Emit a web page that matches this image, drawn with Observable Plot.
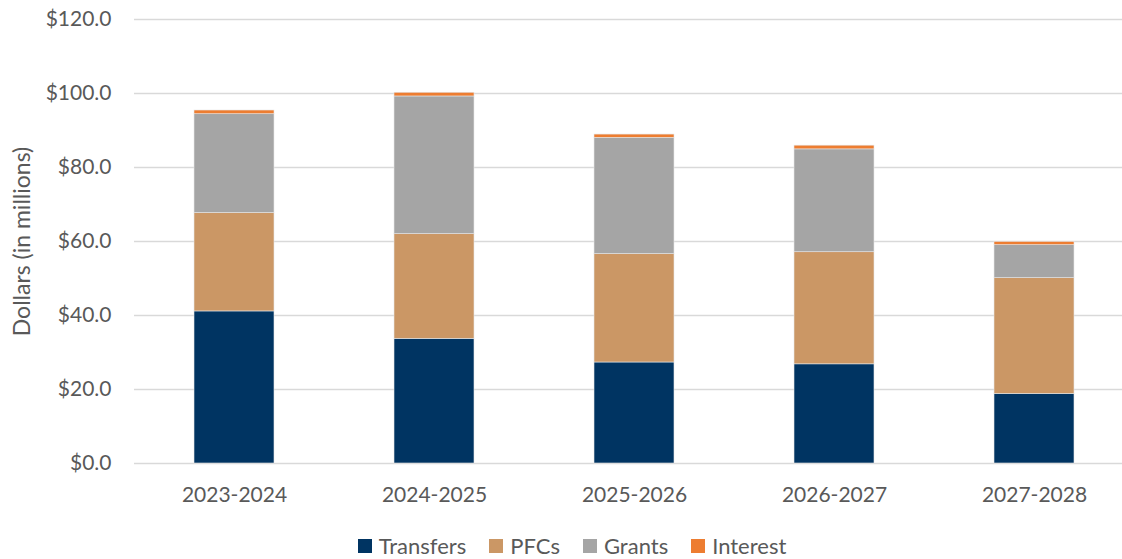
<!DOCTYPE html>
<html>
<head>
<meta charset="utf-8">
<script src="https://cdn.jsdelivr.net/npm/d3@7"></script>
<script src="https://cdn.jsdelivr.net/npm/@observablehq/plot@0.6"></script>
<style>
  html, body { margin: 0; padding: 0; background: #fff; overflow: hidden; }
  body { width: 1122px; height: 559px; font-family: Lato, "Open Sans", sans-serif; }
  #chart { width: 1134px; height: 520px; }
  #chart svg { max-width: none !important; width: 1134px !important; height: 520px !important; display: block; }
  #legend { width: 1122px; box-sizing: border-box; padding-left: 22px; display: flex; justify-content: center; align-items: center; font-size: 22px; color: #595959; margin-top: 13px; height: 25px; }
  #legend .item { display: flex; align-items: center; margin: 0 11.5px; }
  #legend .sw { width: 14px; height: 14px; margin-right: 7px; display: inline-block; }
</style>
</head>
<body>
<div id="chart"></div>
<div id="legend"></div>
<script>
const years = ["2023-2024", "2024-2025", "2025-2026", "2026-2027", "2027-2028"];
const seriesNames = ["Transfers", "PFCs", "Grants", "Interest"];
const transfers = [41.1, 33.7, 27.3, 26.8, 18.8];
const pfcs = [26.6, 28.3, 29.3, 30.3, 31.3];
const grants = [26.7, 37.2, 31.4, 27.8, 8.9];
const interest = [1.0, 1.0, 0.9, 1.0, 0.9];
const yTicks = [0, 20, 40, 60, 80, 100, 120];
const yTitle = "Dollars (in millions)";
const colors = ["#003462", "#CB9765", "#A5A5A5", "#ED7D31"];

const seriesValues = [transfers, pfcs, grants, interest];
const data = [];
seriesNames.forEach((s, si) => {
  years.forEach((y, yi) => data.push({year: y, series: s, value: seriesValues[si][yi]}));
});

const plot = Plot.plot({
  width: 1134,
  height: 520,
  marginLeft: 134,
  marginRight: 0,
  marginTop: 19,
  marginBottom: 57,
  style: {fontFamily: "Lato, 'Open Sans', sans-serif", fontSize: "21px", color: "#595959", background: "#fff", maxWidth: "none"},
  x: {domain: years, paddingInner: 0.6, paddingOuter: 0.3, label: null},
  y: {domain: [0, 120], label: null},
  color: {domain: seriesNames, range: colors},
  marks: [
    Plot.ruleY(yTicks, {stroke: "#d9d9d9", strokeWidth: 1.5}),
    Plot.barY(data, Plot.stackY({x: "year", y: "value", fill: "series", order: seriesNames, stroke: "#e6e6e6", strokeWidth: 0.6})),
    Plot.axisY({ticks: yTicks, tickSize: 0, tickPadding: 23, tickFormat: d => "$" + d.toFixed(1), fill: "#595959", label: null}),
    Plot.text([yTitle], {text: d => d, frameAnchor: "left", textAnchor: "middle", lineAnchor: "middle", rotate: -90, dx: -112, fontSize: 23, fill: "#595959"}),
    Plot.axisX({tickSize: 0, tickPadding: 24, fill: "#595959", label: null})
  ]
});
document.getElementById("chart").appendChild(plot);

const legend = document.getElementById("legend");
seriesNames.forEach((s, i) => {
  const item = document.createElement("span");
  item.className = "item";
  const sw = document.createElement("span");
  sw.className = "sw";
  sw.style.background = colors[i];
  item.appendChild(sw);
  item.appendChild(document.createTextNode(s));
  legend.appendChild(item);
});
</script>
</body>
</html>
